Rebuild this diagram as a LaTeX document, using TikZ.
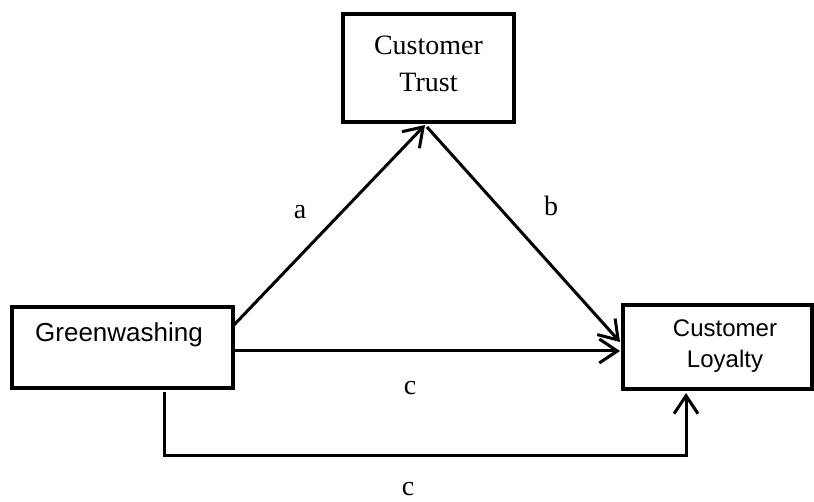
\documentclass[tikz,border=0pt]{standalone}
\usepackage{fontspec}
\setmainfont{Liberation Serif}
\newfontfamily\arialf{Liberation Sans}
\usetikzlibrary{arrows.meta}
\begin{document}
\begin{tikzpicture}[x=1pt,y=-1pt,
  boxst/.style={draw, line width=3.5pt, rectangle, inner sep=0pt},
  conn/.style={line width=3pt, -{Straight Barb[length=18pt,width=24pt,line width=3pt]}},
  serifl/.style={font=\fontsize{28}{37}\selectfont, align=center, inner sep=0pt},
  sansl/.style={font=\arialf\fontsize{24}{31}\selectfont, align=center, inner sep=0pt},
  lab/.style={font=\fontsize{28}{30}\selectfont, inner sep=0pt}]
\useasboundingbox (0,0) rectangle (814,502);
\node[boxst, minimum width=171pt, minimum height=108pt] (t) at (428.5,68) {};
\node[serifl] (tt) at (428.5,63.5) {Customer\\Trust};
\node[boxst, minimum width=221pt, minimum height=81pt] (g) at (122.5,347.5) {};
\node[font=\arialf\fontsize{26}{30}\selectfont, inner sep=0pt] (gt) at (119,335) {Greenwashing};
\node[boxst, minimum width=189pt, minimum height=84pt] (l) at (717.5,347) {};
\node[sansl] (lt) at (725,346.5) {Customer\\Loyalty};
\coordinate (aS) at (233,326);
\coordinate (apex) at (425,125);
\coordinate (bS) at (427,127);
\coordinate (bE) at (620,342);
\coordinate (hS) at (233,351);
\coordinate (hE) at (620,351);
\coordinate (e1) at (164,392);
\coordinate (e2) at (164,455);
\coordinate (e3) at (686,455);
\coordinate (e4) at (686,393);
\draw[conn] (aS) -- (apex);
\draw[conn] (bS) -- (bE);
\draw[conn] (hS) -- (hE);
\draw[conn, line join=miter] (e1) -- (e2) -- (e3) -- (e4);
\node[lab] (la) at (300,212) {a};
\node[lab] (lb) at (551,206) {b};
\node[lab] (lc1) at (410,388) {c};
\node[lab] (lc2) at (408,489) {c};
\end{tikzpicture}
\end{document}
